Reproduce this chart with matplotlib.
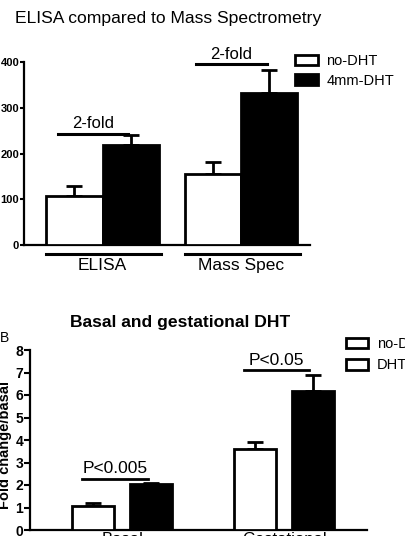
import matplotlib
matplotlib.use("Agg")
import matplotlib.pyplot as plt
from matplotlib.patches import Patch
import numpy as np

plt.rcParams['font.family'] = ['Liberation Sans', 'DejaVu Sans']

# ---- data: panel A ----
a_groups = ["ELISA", "Mass Spec"]
a_series = ["no-DHT", "4mm-DHT"]
a_no_dht = [108, 156]
a_no_dht_err = [22, 26]
a_dht = [218, 332]
a_dht_err = [22, 50]
a_yticks = [0, 100, 200, 300, 400]
a_note = "2-fold"

# ---- data: panel B ----
b_groups = ["Basal", "Gestational"]
b_series = ["no-DHT", "DHT"]
b_no_dht = [1.05, 3.6]
b_no_dht_err = [0.15, 0.3]
b_dht = [2.05, 6.2]
b_dht_err = [0.05, 0.7]
b_yticks = [0, 1, 2, 3, 4, 5, 6, 7, 8]
b_notes = ["P<0.005", "P<0.05"]

W, H = 406, 536
fig = plt.figure(figsize=(W / 100, H / 100), dpi=100)

LW = 2.0

def fx(px):
    return px / W

def fy(py):
    return 1 - py / H

# ================= Panel A =================
axA = fig.add_axes([fx(24), fy(245), fx(310) - fx(24), fy(62) - fy(245)])
a_centers = np.array([1.4, 3.87])
bw = 1.0
xa0 = a_centers - 0.5
xa1 = a_centers + 0.5
axA.bar(xa0, a_no_dht, width=bw, facecolor='white', edgecolor='black', linewidth=LW, zorder=3)
axA.bar(xa1, a_dht, width=bw, facecolor='black', edgecolor='black', linewidth=LW, zorder=3)
axA.errorbar(xa0, a_no_dht, yerr=[np.zeros(2), a_no_dht_err], fmt='none', ecolor='black',
             elinewidth=LW, capsize=5.5, capthick=LW, zorder=2)
axA.errorbar(xa1, a_dht, yerr=[np.zeros(2), a_dht_err], fmt='none', ecolor='black',
             elinewidth=LW, capsize=5.5, capthick=LW, zorder=2)
axA.set_xlim(0, 5.1)
axA.set_ylim(0, 400)
axA.set_yticks(a_yticks)
axA.set_yticklabels([str(t) for t in a_yticks], fontweight='bold', fontsize=8)
axA.set_xticks([])
for s in ['top', 'right']:
    axA.spines[s].set_visible(False)
for s in ['left', 'bottom']:
    axA.spines[s].set_linewidth(1.6)
axA.tick_params(axis='y', length=3, width=1.5, pad=0.5)

# significance lines
a_line_y = [243, 395]
for i, c in enumerate(a_centers):
    axA.plot([c - 0.8, c + 0.46], [a_line_y[i]] * 2, color='black', lw=2.2, clip_on=False)
    axA.text(c - 0.17, a_line_y[i] + 6, a_note, ha='center', va='bottom', fontsize=12)
# group lines & labels
for i, c in enumerate(a_centers):
    axA.plot([c - 1.0, c + 1.05], [-20, -20], color='black', lw=2.2, clip_on=False)
    axA.text(c, -28, a_groups[i], ha='center', va='top', fontsize=12.5)

axA.legend(handles=[Patch(facecolor='white', edgecolor='black', linewidth=2),
                    Patch(facecolor='black', edgecolor='black', linewidth=2)],
           labels=a_series, loc='upper left', bbox_to_anchor=(fx(295), fy(54)),
           bbox_transform=fig.transFigure, frameon=False, fontsize=10.5,
           handlelength=1.55, handleheight=0.75, handletextpad=0.6, labelspacing=0.4,
           borderaxespad=0, borderpad=0)

fig.text(fx(168), fy(19), "ELISA compared to Mass Spectrometry", ha='center', va='center',
         fontsize=12.6)

# ================= Panel B =================
axB = fig.add_axes([fx(30), fy(530), fx(367) - fx(30), fy(350) - fy(530)])
b_centers = np.array([2.2, 6.05])
bwb = 1.0
xb0 = b_centers - 0.69
xb1 = b_centers + 0.69
axB.bar(xb0, b_no_dht, width=bwb, facecolor='white', edgecolor='black', linewidth=LW, zorder=3)
axB.bar(xb1, b_dht, width=bwb, facecolor='black', edgecolor='black', linewidth=LW, zorder=3)
axB.errorbar(xb0, b_no_dht, yerr=[np.zeros(2), b_no_dht_err], fmt='none', ecolor='black',
             elinewidth=LW, capsize=5.5, capthick=LW, zorder=2)
axB.errorbar(xb1, b_dht, yerr=[np.zeros(2), b_dht_err], fmt='none', ecolor='black',
             elinewidth=LW, capsize=5.5, capthick=LW, zorder=2)
axB.set_xlim(0, 8.02)
axB.set_ylim(0, 8)
axB.set_yticks(b_yticks)
axB.set_yticklabels([str(t) for t in b_yticks], fontweight='bold', fontsize=10)
axB.set_xticks([])
for s in ['top', 'right']:
    axB.spines[s].set_visible(False)
for s in ['left', 'bottom']:
    axB.spines[s].set_linewidth(1.6)
axB.tick_params(axis='y', length=4, width=1.5, pad=1)
axB.set_ylabel("Fold change/basal", fontweight='bold', fontsize=10.5)
axB.yaxis.set_label_coords(-0.052, 0.47)

b_line_y = [2.27, 7.1]
for i, c in enumerate(b_centers):
    axB.plot([c - 0.96, c + 0.6], [b_line_y[i]] * 2, color='black', lw=2.0, clip_on=False)
    axB.text(c - 0.18, b_line_y[i] + 0.12, b_notes[i], ha='center', va='bottom', fontsize=12.5)
for i, c in enumerate(b_centers):
    axB.text(c, -0.08, b_groups[i], ha='center', va='top', fontsize=12)

axB.legend(handles=[Patch(facecolor='white', edgecolor='black', linewidth=2),
                    Patch(facecolor='white', edgecolor='black', linewidth=2)],
           labels=b_series, loc='upper left', bbox_to_anchor=(fx(346), fy(337)),
           bbox_transform=fig.transFigure, frameon=False, fontsize=10.5,
           handlelength=1.5, handleheight=0.75, handletextpad=0.6, labelspacing=0.5,
           borderaxespad=0, borderpad=0)

fig.text(fx(180), fy(322), "Basal and gestational DHT", ha='center', va='center',
         fontsize=12.6, fontweight='bold')
fig.text(fx(0), fy(338), "B", ha='left', va='center', fontsize=10)

fig.savefig("out.png", dpi=100)
